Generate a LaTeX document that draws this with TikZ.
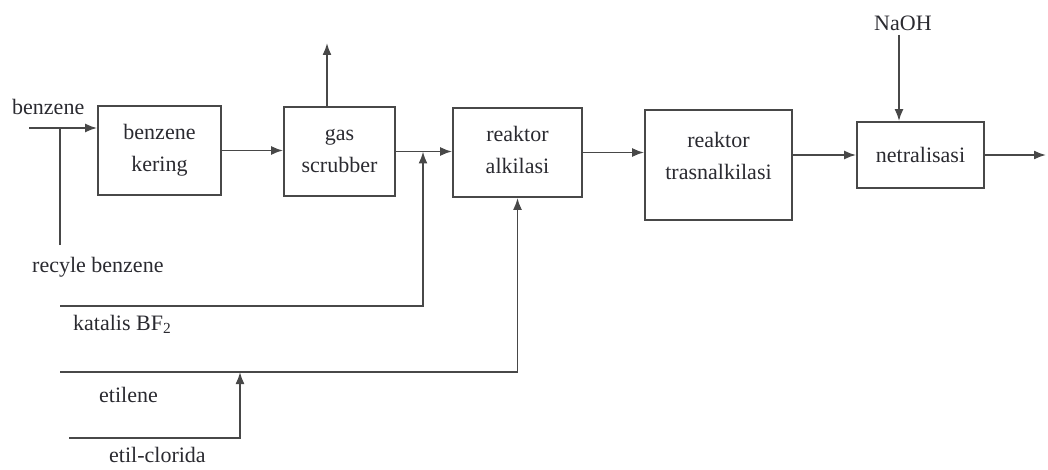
\documentclass[tikz,border=0pt]{standalone}
\usepackage{fontspec}
\setmainfont{Liberation Serif}
\usetikzlibrary{arrows.meta}
\definecolor{ln}{HTML}{484848}
\definecolor{tx}{HTML}{2A2A30}
\newcommand{\twol}[2]{\begin{tabular}{@{}c@{}}#1\\[6pt]#2\end{tabular}}
\tikzset{
  box/.style={draw=ln, line width=1.8pt, inner sep=0pt, text=tx,
    font=\fontsize{22}{26}\selectfont},
  lbl/.style={text=tx, inner sep=0pt, font=\fontsize{22}{26}\selectfont},
  flow/.style={draw=ln, line width=1.8pt, -{Latex[length=12pt,width=9pt]}},
  pipe/.style={draw=ln, line width=1.8pt}
}
\begin{document}
\begin{tikzpicture}[x=1pt,y=-1pt]
\useasboundingbox (0,0) rectangle (1048,470);
% boxes
\node[box, minimum width=123pt, minimum height=89pt] (kering) at (159.5,150.5) {\twol{benzene}{kering}};
\node[box, minimum width=111pt, minimum height=89pt] (scrub) at (339.5,151.5) {\twol{gas}{scrubber}};
\node[box, minimum width=129pt, minimum height=89pt] (alk) at (517.5,152.5) {\twol{reaktor}{alkilasi}};
\node[box, minimum width=147pt, minimum height=110pt] (trans) at (718.5,165) {};
\node[lbl] (transtxt) at (718.5,158) {\twol{reaktor}{trasnalkilasi}};
\node[box, minimum width=127pt, minimum height=66pt] (netral) at (920.5,155) {netralisasi};
% labels
\node[lbl, anchor=base west] (lbenz) at (12,115) {benzene};
\node[lbl, anchor=base west] (lrec) at (32,272) {recyle benzene};
\node[lbl, anchor=base west] (lkat) at (73,330) {katalis BF\textsubscript{2}};
\node[lbl, anchor=base west] (leti) at (99,402) {etilene};
\node[lbl, anchor=base west] (lcl) at (109,462) {etil-clorida};
\node[lbl, anchor=base west] (lnaoh) at (874,31) {NaOH};
% coordinates
\coordinate (bin) at (29,128);
\coordinate (rec) at (60,245);
\coordinate (top) at (327,43);
\coordinate (kat) at (60,306);
\coordinate (katx) at (423,306);
\coordinate (eti) at (60,372);
\coordinate (clo) at (69,438);
\coordinate (clox) at (240,438);
\coordinate (n1) at (899,35);
\coordinate (out) at (1046,155);
% connectors
\draw[flow] (bin) -- (bin -| kering.west);
\draw[pipe] (rec) -- (rec |- bin);
\draw[flow] (kering.east) -- (kering.east -| scrub.west);
\draw[flow] (scrub.north -| top) -- (top);
\draw[flow] (scrub.east) -- (scrub.east -| alk.west);
\draw[flow] (kat) -- (katx) -- (katx |- scrub.east);
\draw[flow] (eti) -- (eti -| alk.south) -- (alk.south);
\draw[flow] (clo) -- (clox) -- (clox |- eti);
\draw[flow] (alk.east) -- (alk.east -| trans.west);
\draw[flow] (netral.west -| trans.east) -- (netral.west);
\draw[flow] (n1) -- (n1 |- netral.north);
\draw[flow] (netral.east) -- (out);
\end{tikzpicture}
\end{document}
